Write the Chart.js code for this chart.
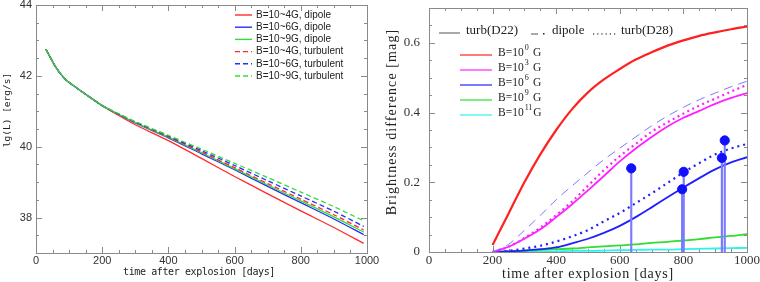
<!DOCTYPE html>
<html>
<head>
<meta charset="utf-8">
<script src="https://cdn.jsdelivr.net/npm/chart.js@4.4.1/dist/chart.umd.min.js"></script>
<style>
  html, body { margin: 0; padding: 0; background: #fff; }
  #wrap { position: relative; width: 760px; height: 282px; }
  .panel { position: absolute; top: 0; width: 380px; height: 282px; }
</style>
</head>
<body>
<div id="wrap">
  <div class="panel" style="left:0"><canvas id="lum" width="380" height="282"></canvas></div>
  <div class="panel" style="left:380px"><canvas id="diff" width="380" height="282"></canvas></div>
</div>
<script>
// left panel: light curves
const lumDays    = [30, 60, 90, 120, 150, 200, 250, 300, 400, 500, 600, 700, 800, 900, 990];
const lumDipole4 = [42.75, 42.24, 41.89, 41.68, 41.48, 41.16, 40.88, 40.62, 40.17, 39.67, 39.16, 38.67, 38.19, 37.72, 37.27];
const lumDipole6 = [42.75, 42.24, 41.89, 41.68, 41.48, 41.16, 40.91, 40.67, 40.25, 39.80, 39.35, 38.88, 38.42, 37.96, 37.52];
const lumDipole9 = [42.75, 42.24, 41.89, 41.68, 41.48, 41.16, 40.91, 40.68, 40.27, 39.83, 39.38, 38.92, 38.47, 38.02, 37.59];
const lumTurb4   = [42.75, 42.24, 41.89, 41.68, 41.48, 41.16, 40.92, 40.69, 40.28, 39.85, 39.41, 38.96, 38.52, 38.08, 37.65];
const lumTurb6   = [42.75, 42.24, 41.89, 41.68, 41.48, 41.16, 40.92, 40.70, 40.30, 39.89, 39.47, 39.04, 38.61, 38.18, 37.75];
const lumTurb9   = [42.75, 42.24, 41.89, 41.68, 41.48, 41.16, 40.93, 40.71, 40.32, 39.93, 39.53, 39.13, 38.72, 38.31, 37.91];
const lumLabels  = ['B=10~4G, dipole', 'B=10~6G, dipole', 'B=10~9G, dipole',
                    'B=10~4G, turbulent', 'B=10~6G, turbulent', 'B=10~9G, turbulent'];
const lumXTicks  = [0, 200, 400, 600, 800, 1000];
const lumYTicks  = [38, 40, 42, 44];

// right panel: brightness difference
const diffDays   = [200, 250, 300, 350, 400, 450, 500, 550, 600, 650, 700, 750, 800, 850, 900, 950, 1000];
const diffB0     = [0.02, 0.11, 0.20, 0.28, 0.35, 0.41, 0.458, 0.495, 0.525, 0.552, 0.573, 0.592, 0.607, 0.62, 0.63, 0.639, 0.647];
const diffB3     = [0, 0.015, 0.038, 0.065, 0.10, 0.137, 0.177, 0.218, 0.26, 0.297, 0.33, 0.36, 0.385, 0.405, 0.425, 0.442, 0.456];
const diffB3D28  = [0, 0.015, 0.040, 0.070, 0.106, 0.145, 0.19, 0.235, 0.275, 0.31, 0.345, 0.372, 0.397, 0.42, 0.44, 0.46, 0.48];
const diffB6Dip  = [0, 0.022, 0.062, 0.105, 0.15, 0.19, 0.228, 0.265, 0.298, 0.33, 0.362, 0.39, 0.415, 0.437, 0.456, 0.474, 0.49];
const diffB6D28  = [0, 0.003, 0.010, 0.018, 0.03, 0.045, 0.063, 0.088, 0.112, 0.14, 0.168, 0.198, 0.228, 0.255, 0.28, 0.297, 0.31];
const diffB6     = [0, 0.002, 0.004, 0.008, 0.013, 0.025, 0.038, 0.055, 0.075, 0.10, 0.128, 0.157, 0.185, 0.212, 0.237, 0.257, 0.272];
const diffB9     = [0, 0.002, 0.004, 0.006, 0.008, 0.01, 0.013, 0.016, 0.019, 0.022, 0.026, 0.029, 0.033, 0.037, 0.042, 0.046, 0.051];
const diffB11    = [0, 0, 0.001, 0.001, 0.002, 0.003, 0.003, 0.004, 0.005, 0.006, 0.007, 0.007, 0.008, 0.009, 0.01, 0.011, 0.012];
const obsDays    = [636, 796, 801, 921, 930];
const obsMag     = [0.24, 0.18, 0.23, 0.27, 0.32];
const fieldExps  = ['0', '3', '6', '9', '11'];
const modelNames = ['turb(D22)', 'dipole', 'turb(D28)'];
const diffXTicks = [0, 200, 400, 600, 800, 1000];
const diffYTicks = [0, 0.2, 0.4, 0.6];

const pts = (xs, ys) => xs.map((x, i) => ({ x, y: ys[i] }));

function axis(min, max, ticks, font, pad, size, fmt) {
  return {
    type: 'linear', min, max, offset: false,
    grid: { display: false, drawTicks: false }, border: { display: false },
    ticks: { font, color: '#333', padding: pad, maxRotation: 0, autoSkip: false, callback: fmt },
    afterBuildTicks: s => { s.ticks = ticks.map(v => ({ value: v })); },
    afterFit: s => {
      if (s.isHorizontal()) s.height = size; else s.width = size;
      s.paddingTop = s.paddingBottom = s.paddingLeft = s.paddingRight = 0;
    },
  };
}

// box with inward ticks on all four sides
const frameTicks = {
  id: 'frameTicks',
  beforeDatasetsDraw(chart, args, o) {
    const { ctx, chartArea: a, scales: { x, y } } = chart;
    ctx.save();
    ctx.strokeStyle = '#8a8a8a';
    ctx.lineWidth = 1;
    ctx.strokeRect(a.left + 0.5, a.top + 0.5, a.right - a.left, a.bottom - a.top);
    ctx.beginPath();
    const each = (s, step, major, fn) => {
      for (let k = Math.ceil(s.min / step - 1e-6); k * step <= s.max + 1e-9; k++) {
        const v = k * step;
        const len = Math.abs(v / major - Math.round(v / major)) < 1e-6 ? 6 : 3;
        fn(Math.round(s.getPixelForValue(v)) + 0.5, len);
      }
    };
    each(x, o.xMinor, o.xMajor, (px, len) => {
      ctx.moveTo(px, a.bottom); ctx.lineTo(px, a.bottom - len);
      ctx.moveTo(px, a.top); ctx.lineTo(px, a.top + len);
    });
    each(y, o.yMinor, o.yMajor, (py, len) => {
      ctx.moveTo(a.left, py); ctx.lineTo(a.left + len, py);
      ctx.moveTo(a.right, py); ctx.lineTo(a.right - len, py);
    });
    ctx.stroke();
    ctx.restore();
  }
};

const axisTitles = {
  id: 'axisTitles',
  afterDraw(chart, args, o) {
    const ctx = chart.ctx;
    ctx.save();
    ctx.fillStyle = '#222';
    ctx.textAlign = 'center';
    ctx.textBaseline = 'middle';
    o.items.forEach(t => {
      ctx.save();
      ctx.font = t.font;
      ctx.letterSpacing = t.spacing || '0px';
      ctx.translate(t.x, t.y);
      ctx.rotate(t.rot || 0);
      ctx.fillText(t.text, 0, 0);
      ctx.restore();
    });
    ctx.restore();
  }
};

const lumLegend = {
  id: 'lumLegend',
  afterDraw(chart) {
    const ctx = chart.ctx;
    ctx.save();
    ctx.font = '10px "Liberation Sans"';
    ctx.textBaseline = 'middle';
    lumLabels.forEach((lab, i) => {
      const ds = chart.data.datasets.find(d => d.label === lab);
      const y = 15 + i * 12.2;
      ctx.strokeStyle = ds.borderColor;
      ctx.lineWidth = 1.4;
      ctx.setLineDash(ds.borderDash || []);
      ctx.beginPath(); ctx.moveTo(235, y); ctx.lineTo(252, y); ctx.stroke();
      ctx.fillStyle = '#222';
      ctx.fillText(lab, 256, y);
    });
    ctx.restore();
  }
};

const diffLegend = {
  id: 'diffLegend',
  afterDraw(chart) {
    const ctx = chart.ctx;
    ctx.save();
    ctx.textBaseline = 'middle';
    ctx.fillStyle = '#222';
    ctx.strokeStyle = '#555';
    ctx.lineWidth = 1;
    // header: line styles
    const hy = 31;
    ctx.font = '13px "Liberation Serif"';
    ctx.beginPath(); ctx.moveTo(59, hy + 2); ctx.lineTo(80, hy + 2); ctx.stroke();
    ctx.fillText(modelNames[0], 86, hy);
    ctx.beginPath(); ctx.moveTo(151, hy + 3); ctx.lineTo(158, hy + 3); ctx.stroke();
    ctx.fillRect(163, hy + 2, 1.5, 1.5);
    ctx.fillText(modelNames[1], 172, hy);
    ctx.setLineDash([1.2, 3]);
    ctx.lineWidth = 1.3;
    ctx.beginPath(); ctx.moveTo(213, hy + 3); ctx.lineTo(236, hy + 3); ctx.stroke();
    ctx.setLineDash([]);
    ctx.fillText(modelNames[2], 241, hy);
    // field strengths
    const cols = ['#ff2020', '#ff20ff', '#2020ff', '#30dd30', '#30f0f0'];
    fieldExps.forEach((e, i) => {
      const y = 53 + i * 15;
      ctx.strokeStyle = cols[i];
      ctx.lineWidth = 1.2;
      ctx.beginPath(); ctx.moveTo(80, y + 2); ctx.lineTo(112, y + 2); ctx.stroke();
      ctx.font = '11.5px "Liberation Serif"';
      ctx.fillText('B=10', 118, y);
      const ex = 118 + ctx.measureText('B=10').width + 1;
      ctx.font = '8px "Liberation Serif"';
      ctx.fillText(e, ex, y - 5);
      const ee = ex + ctx.measureText(e).width;
      ctx.font = '11.5px "Liberation Serif"';
      ctx.fillText('G', Math.max(ee + 1, 153), y);
    });
    ctx.restore();
  }
};

new Chart(document.getElementById('lum'), {
  type: 'line',
  data: {
    datasets: [
      { label: lumLabels[0], data: pts(lumDays, lumDipole4), borderColor: '#ff2a2a', order: 5 },
      { label: lumLabels[1], data: pts(lumDays, lumDipole6), borderColor: '#2a2aff', order: 4 },
      { label: lumLabels[2], data: pts(lumDays, lumDipole9), borderColor: '#33dd33', order: 3 },
      { label: lumLabels[3], data: pts(lumDays, lumTurb4), borderColor: '#ff2a2a', borderDash: [5, 3], order: 2 },
      { label: lumLabels[4], data: pts(lumDays, lumTurb6), borderColor: '#2a2aff', borderDash: [5, 3], order: 1 },
      { label: lumLabels[5], data: pts(lumDays, lumTurb9), borderColor: '#33dd33', borderDash: [5, 3], order: 0 },
    ].map(d => ({ ...d, borderWidth: 1.3, pointRadius: 0, fill: false, tension: 0.25 })),
  },
  options: {
    responsive: false,
    animation: false,
    layout: { padding: { top: 5, right: 13, left: 0, bottom: 0 } },
    plugins: {
      legend: { display: false },
      tooltip: { enabled: false },
      frameTicks: { xMajor: 200, xMinor: 50, yMajor: 2, yMinor: 0.5 },
      axisTitles: { items: [
        { text: 'time after explosion [days]', x: 199, y: 272, font: '10px "DejaVu Sans Mono"', spacing: '-0.4px' },
        { text: 'lg(L) [erg/s]', x: 8, y: 110, rot: -Math.PI / 2, font: '9.5px "DejaVu Sans Mono"' },
      ] },
    },
    scales: {
      x: axis(0, 1000, lumXTicks, { family: 'Liberation Sans', size: 11 }, 1, 29, v => String(v)),
      y: axis(37, 44, lumYTicks, { family: 'Liberation Sans', size: 11 }, 4, 36, v => String(v)),
    },
  },
  plugins: [frameTicks, axisTitles, lumLegend],
});

new Chart(document.getElementById('diff'), {
  type: 'line',
  data: {
    datasets: [
      { type: 'scatter', label: 'observed', data: pts(obsDays, obsMag), pointRadius: 4.6,
        pointBackgroundColor: '#1010ff', pointBorderColor: '#1010ff', showLine: false, order: 0 },
      { type: 'bar', label: 'stems', data: pts(obsDays, obsMag), barThickness: 1.5,
        backgroundColor: '#7a7aff', borderWidth: 0, order: 1 },
      { label: 'B=10^0 turb(D22)', data: pts(diffDays, diffB0), borderColor: '#ff2020', borderWidth: 2.2, order: 2 },
      { label: 'B=10^6 dipole', data: pts(diffDays, diffB6Dip), borderColor: '#7a7aff', borderWidth: 1, borderDash: [9, 6], order: 3 },
      { label: 'B=10^3 turb(D28)', data: pts(diffDays, diffB3D28), borderColor: '#ff20ff', borderWidth: 2.2, borderDash: [2, 3.5], order: 4 },
      { label: 'B=10^3 turb(D22)', data: pts(diffDays, diffB3), borderColor: '#ff20ff', borderWidth: 1.8, order: 5 },
      { label: 'B=10^6 turb(D28)', data: pts(diffDays, diffB6D28), borderColor: '#2020ff', borderWidth: 2.2, borderDash: [2, 4], order: 6 },
      { label: 'B=10^6 turb(D22)', data: pts(diffDays, diffB6), borderColor: '#2020ff', borderWidth: 1.8, order: 7 },
      { label: 'B=10^9 turb(D22)', data: pts(diffDays, diffB9), borderColor: '#30dd30', borderWidth: 1.8, order: 8 },
      { label: 'B=10^11 turb(D22)', data: pts(diffDays, diffB11), borderColor: '#30f0f0', borderWidth: 1.8, order: 9 },
    ].map(d => d.type ? d : ({ ...d, pointRadius: 0, fill: false, cubicInterpolationMode: 'monotone' })),
  },
  options: {
    responsive: false,
    animation: false,
    layout: { padding: { top: 8, right: 13, left: 0, bottom: 0 } },
    plugins: {
      legend: { display: false },
      tooltip: { enabled: false },
      frameTicks: { xMajor: 200, xMinor: 50, yMajor: 0.2, yMinor: 0.05 },
      axisTitles: { items: [
        { text: 'time after explosion [days]', x: 208, y: 274, font: '14px "Liberation Serif"', spacing: '0.8px' },
        { text: 'Brightness difference [mag]', x: 12, y: 122, rot: -Math.PI / 2, font: '14px "Liberation Serif"', spacing: '1.1px' },
      ] },
    },
    scales: {
      x: axis(0, 1000, diffXTicks, { family: 'Liberation Serif', size: 13 }, 1, 30, v => String(v)),
      y: axis(0, 0.7, diffYTicks, { family: 'Liberation Serif', size: 13 }, 9, 49, v => v === 0 ? '0' : v.toFixed(1)),
    },
  },
  plugins: [frameTicks, axisTitles, diffLegend],
});
</script>
</body>
</html>
